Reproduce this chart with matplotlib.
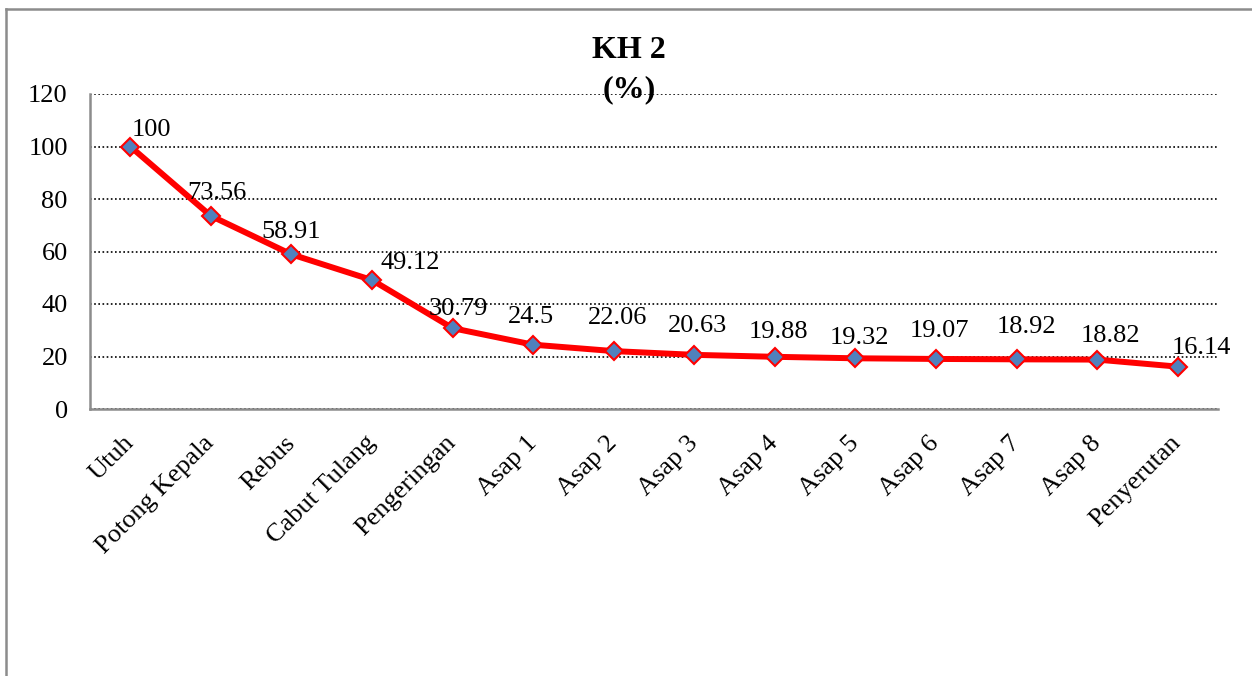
import matplotlib
matplotlib.use("Agg")
import matplotlib.pyplot as plt
from matplotlib.lines import Line2D

plt.rcParams['font.family'] = ['Liberation Serif', 'DejaVu Serif']

# tahapan proses dan rendemen (%)
tahapan = ['Utuh', 'Potong Kepala', 'Rebus', 'Cabut Tulang', 'Pengeringan',
           'Asap 1', 'Asap 2', 'Asap 3', 'Asap 4', 'Asap 5', 'Asap 6',
           'Asap 7', 'Asap 8', 'Penyerutan']
rendemen = [100, 73.56, 58.91, 49.12, 30.79, 24.5, 22.06, 20.63, 19.88,
            19.32, 19.07, 18.92, 18.82, 16.14]

# geser label nilai (piksel) supaya tidak menabrak garis
geser_label = [(21, 11), (6, 17), (0, 16), (38, 11), (6, 13), (-2, 22),
               (4, 27), (3, 23), (4, 19), (4, 14), (3, 22), (10, 26),
               (13, 18), (24, 13)]

W, H = 1252, 676
fig = plt.figure(figsize=(W / 100, H / 100), dpi=100)
ax = fig.add_axes([90 / W, 1 - 409 / H, (1218 - 90) / W, (409 - 94) / H])

x = list(range(len(tahapan)))
ax.plot(x, rendemen, color='#ff0000', lw=4.3, marker='D', markersize=9.5,
        markerfacecolor='#4f81bd', markeredgecolor='#ff0000',
        markeredgewidth=1.5, zorder=3)

for i, v in enumerate(rendemen):
    dx, dy = geser_label[i]
    ax.annotate(f'{v:g}', (i, v), xytext=(dx, dy), textcoords='offset pixels',
                ha='center', va='baseline', fontsize=19, zorder=4)

ax.set_xlim(-0.5, len(tahapan) - 0.5)
ax.set_ylim(0, 120)
ax.set_yticks(range(0, 121, 20))
ax.set_xticks(x)
ax.set_xticklabels(tahapan, rotation=45, ha='right', va='center',
                   rotation_mode='anchor')
ax.tick_params(axis='x', length=0, pad=22, labelsize=19)
ax.tick_params(axis='y', length=0, pad=16, labelsize=19)

ax.grid(axis='y', color='black', linestyle=(0, (1, 1.5)), lw=1.2)
ax.set_axisbelow(True)
for s in ['top', 'right']:
    ax.spines[s].set_visible(False)
for s in ['left', 'bottom']:
    ax.spines[s].set_color('#8c8c8c')
    ax.spines[s].set_linewidth(1.8)

fig.text(629 / W, 1 - 58 / H, 'KH 2', ha='center', va='baseline',
         fontsize=23, fontweight='bold')
fig.text(629 / W, 1 - 97 / H, '(%)', ha='center', va='baseline',
         fontsize=23, fontweight='bold', zorder=5)

# bingkai area grafik
fig.add_artist(Line2D([6 / W, 6 / W], [0, 1 - 9 / H], color='#8c8c8c', lw=1.8))
fig.add_artist(Line2D([6 / W, 1], [1 - 9 / H, 1 - 9 / H], color='#8c8c8c', lw=1.8))

fig.savefig('out.png', dpi=100)
